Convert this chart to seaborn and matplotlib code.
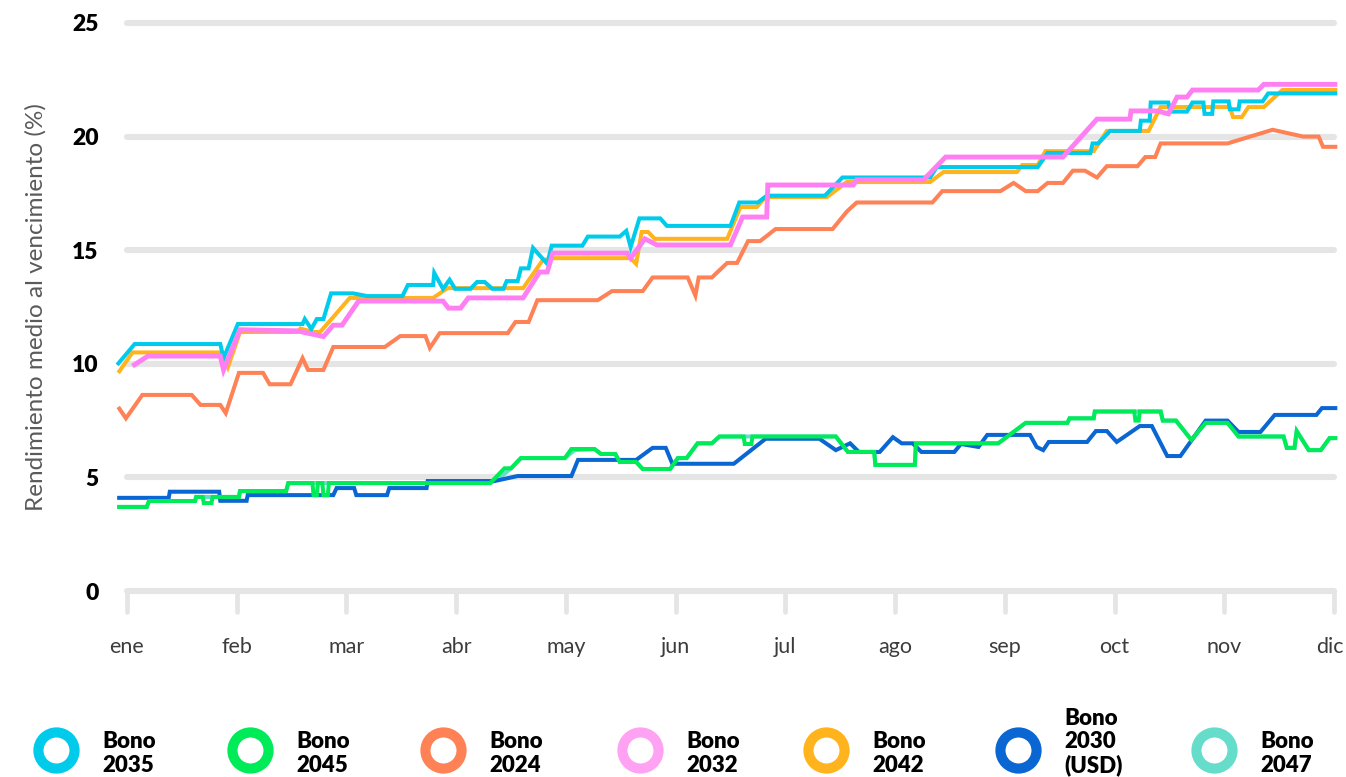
import numpy as np
import pandas as pd
import matplotlib
matplotlib.use("Agg")
import matplotlib.pyplot as plt
import matplotlib.transforms as mtransforms
from matplotlib.lines import Line2D
import seaborn as sns

# Month labels (x positions are fractional month indices, 0 = ene ... 11 = dic)
meses = ["ene", "feb", "mar", "abr", "may", "jun", "jul", "ago", "sep", "oct", "nov", "dic"]
yticks = [0, 5, 10, 15, 20, 25]

# Bono 2035
x_2035 = [-0.09, 0.07, 0.85, 0.88, 1.01, 1.60, 1.62, 1.68, 1.73, 1.79, 1.86, 2.06, 2.19, 2.51, 2.56,
          2.79, 2.80, 2.88, 2.94, 2.99, 3.13, 3.19, 3.26, 3.33, 3.43, 3.46, 3.56, 3.59, 3.66, 3.70,
          3.83, 3.87, 4.15, 4.20, 4.49, 4.55, 4.59, 4.67, 4.86, 4.92, 5.50, 5.58, 5.75, 5.83, 6.36,
          6.52, 7.32, 7.38, 8.30, 8.39, 8.78, 8.80, 8.85, 8.96, 9.23, 9.24, 9.32, 9.33, 9.49, 9.51,
          9.66, 9.71, 9.81, 9.82, 9.89, 9.90, 10.04, 10.05, 10.13, 10.14, 10.35, 10.40, 11.03]
y_2035 = [9.95, 10.87, 10.87, 10.25, 11.75, 11.75, 11.97, 11.53, 11.97, 11.97, 13.1, 13.1, 12.98, 12.98, 13.47,
          13.47, 14.0, 13.3, 13.7, 13.3, 13.3, 13.6, 13.6, 13.3, 13.3, 13.64, 13.64, 14.2, 14.2, 15.1,
          14.4, 15.2, 15.2, 15.6, 15.6, 15.85, 15.14, 16.4, 16.4, 16.07, 16.07, 17.1, 17.1, 17.4, 17.4,
          18.2, 18.2, 18.66, 18.66, 19.28, 19.28, 19.7, 19.7, 20.25, 20.25, 20.7, 20.7, 21.5, 21.5, 21.1,
          21.1, 21.5, 21.5, 21.0, 21.0, 21.55, 21.55, 21.2, 21.2, 21.55, 21.55, 21.9, 21.9]

# Bono 2045
x_2045 = [-0.09, 0.18, 0.20, 0.62, 0.63, 0.69, 0.70, 0.77, 0.78, 1.02, 1.03, 1.45, 1.47, 1.69, 1.70,
          1.73, 1.74, 1.78, 1.79, 1.83, 1.84, 3.31, 3.44, 3.50, 3.59, 3.99, 4.05, 4.26, 4.32, 4.45,
          4.49, 4.64, 4.70, 4.95, 5.02, 5.10, 5.20, 5.33, 5.40, 5.62, 5.63, 5.69, 5.70, 6.46, 6.57,
          6.81, 6.82, 7.18, 7.19, 7.94, 8.19, 8.57, 8.59, 8.81, 8.82, 9.18, 9.19, 9.22, 9.23, 9.42,
          9.44, 9.56, 9.70, 9.83, 10.03, 10.13, 10.54, 10.57, 10.64, 10.66, 10.77, 10.88, 10.96, 11.03]
y_2045 = [3.7, 3.7, 3.96, 3.96, 4.14, 4.14, 3.87, 3.87, 4.14, 4.14, 4.4, 4.4, 4.75, 4.75, 4.22,
          4.22, 4.75, 4.75, 4.22, 4.22, 4.75, 4.75, 5.4, 5.4, 5.85, 5.85, 6.25, 6.25, 6.03, 6.03,
          5.68, 5.68, 5.37, 5.37, 5.85, 5.85, 6.5, 6.5, 6.8, 6.8, 6.47, 6.47, 6.8, 6.8, 6.12,
          6.12, 5.55, 5.55, 6.5, 6.5, 7.4, 7.4, 7.6, 7.6, 7.9, 7.9, 7.5, 7.5, 7.9, 7.9,
          7.5, 7.5, 6.65, 7.4, 7.4, 6.8, 6.8, 6.3, 6.3, 7.04, 6.2, 6.2, 6.73, 6.73]

# Bono 2024
x_2024 = [-0.08, -0.01, 0.14, 0.59, 0.67, 0.85, 0.90, 1.02, 1.24, 1.30, 1.49, 1.60, 1.65, 1.79, 1.88,
          2.35, 2.49, 2.72, 2.76, 2.85, 3.47, 3.54, 3.66, 3.74, 4.29, 4.42, 4.70, 4.79, 5.11, 5.18,
          5.21, 5.33, 5.47, 5.56, 5.66, 5.77, 5.91, 6.43, 6.56, 6.65, 7.34, 7.43, 7.96, 8.08, 8.19,
          8.30, 8.39, 8.53, 8.62, 8.73, 8.84, 8.93, 9.21, 9.28, 9.37, 9.42, 10.03, 10.44, 10.72, 10.86,
          10.90, 11.03]
y_2024 = [8.1, 7.6, 8.63, 8.63, 8.19, 8.19, 7.83, 9.6, 9.6, 9.1, 9.1, 10.25, 9.73, 9.73, 10.74,
          10.74, 11.22, 11.22, 10.7, 11.35, 11.35, 11.84, 11.84, 12.8, 12.8, 13.2, 13.2, 13.8, 13.8, 13.0,
          13.8, 13.8, 14.44, 14.44, 15.4, 15.4, 15.93, 15.93, 16.7, 17.1, 17.1, 17.6, 17.6, 17.96, 17.6,
          17.6, 17.96, 17.96, 18.5, 18.5, 18.2, 18.7, 18.7, 19.1, 19.1, 19.7, 19.7, 20.3, 20.0, 20.0,
          19.55, 19.55]

# Bono 2032
x_2032 = [0.05, 0.19, 0.85, 0.88, 1.03, 1.55, 1.79, 1.88, 1.96, 2.11, 2.88, 2.93, 3.04, 3.11, 3.61,
          3.76, 3.83, 3.88, 4.56, 4.59, 4.72, 4.83, 5.50, 5.61, 5.83, 5.84, 6.62, 6.65, 7.26, 7.46,
          8.53, 8.84, 9.14, 9.15, 9.39, 9.49, 9.57, 9.66, 9.71, 10.31, 10.36, 11.03]
y_2032 = [9.9, 10.34, 10.34, 9.73, 11.5, 11.45, 11.2, 11.7, 11.7, 12.76, 12.76, 12.45, 12.45, 12.9, 12.9,
          14.04, 14.04, 14.87, 14.87, 14.65, 15.5, 15.23, 15.23, 16.46, 16.46, 17.87, 17.87, 18.1, 18.1, 19.1,
          19.1, 20.77, 20.77, 21.13, 21.13, 21.0, 21.74, 21.74, 22.05, 22.05, 22.3, 22.3]

# Bono 2042
x_2042 = [-0.08, 0.05, 0.87, 0.92, 1.03, 1.55, 1.58, 1.70, 1.76, 1.88, 2.03, 2.79, 2.92, 3.61, 3.79,
          3.90, 4.59, 4.64, 4.69, 4.75, 4.81, 5.47, 5.59, 5.74, 5.82, 6.38, 6.56, 7.32, 7.44, 8.11,
          8.16, 8.30, 8.37, 8.81, 8.93, 9.31, 9.42, 10.05, 10.08, 10.16, 10.22, 10.36, 10.53, 11.03]
y_2042 = [9.6, 10.5, 10.5, 9.86, 11.4, 11.4, 11.55, 11.4, 11.4, 12.06, 12.9, 12.9, 13.33, 13.33, 14.57,
          14.65, 14.65, 14.4, 15.8, 15.8, 15.5, 15.5, 16.9, 16.9, 17.34, 17.34, 18.0, 18.0, 18.44, 18.44,
          18.75, 18.75, 19.36, 19.36, 20.25, 20.25, 21.3, 21.3, 20.86, 20.86, 21.3, 21.3, 22.05, 22.05]

# Bono 2030 (USD)
x_2030 = [-0.09, 0.38, 0.39, 0.84, 0.85, 1.09, 1.10, 1.88, 1.91, 2.07, 2.09, 2.37, 2.39, 2.73, 2.74,
          3.35, 3.56, 4.05, 4.11, 4.64, 4.79, 4.91, 4.97, 5.53, 5.82, 6.31, 6.46, 6.59, 6.67, 6.86,
          6.98, 7.06, 7.16, 7.24, 7.54, 7.60, 7.76, 7.84, 8.23, 8.29, 8.35, 8.40, 8.75, 8.83, 8.93,
          9.02, 9.23, 9.34, 9.48, 9.60, 9.83, 10.03, 10.13, 10.33, 10.46, 10.84, 10.89, 11.03]
y_2030 = [4.1, 4.1, 4.37, 4.37, 3.97, 3.97, 4.22, 4.22, 4.53, 4.53, 4.22, 4.22, 4.53, 4.53, 4.84,
          4.84, 5.06, 5.06, 5.77, 5.77, 6.3, 6.3, 5.6, 5.6, 6.7, 6.7, 6.2, 6.5, 6.12, 6.12,
          6.77, 6.5, 6.5, 6.12, 6.12, 6.47, 6.34, 6.87, 6.87, 6.34, 6.2, 6.56, 6.56, 7.04, 7.04,
          6.56, 7.26, 7.26, 5.94, 5.94, 7.5, 7.5, 7.0, 7.0, 7.75, 7.75, 8.05, 8.05]

# Bono 2047
x_2047 = [-0.09, 0.18, 0.20, 0.62, 0.63, 1.02, 1.03, 1.45, 1.47, 3.31, 3.40, 3.50, 3.59, 3.99, 4.08,
          4.26, 4.32, 4.45, 4.49, 4.64, 4.70, 4.95, 5.02, 5.10, 5.20, 5.33, 5.40, 6.46, 6.57, 6.81,
          6.82, 7.18, 7.19, 7.94, 8.19, 8.57, 8.59, 8.81, 8.82, 9.42, 9.44, 9.56, 9.70, 9.83, 10.03,
          10.13, 10.54, 10.57, 10.64, 10.66, 10.77, 10.88, 10.96, 11.03]
y_2047 = [3.7, 3.7, 3.96, 3.96, 4.14, 4.14, 4.4, 4.4, 4.75, 4.75, 5.0, 5.4, 5.85, 5.85, 6.2,
          6.25, 6.03, 6.03, 5.68, 5.68, 5.37, 5.37, 5.85, 5.85, 6.5, 6.5, 6.8, 6.8, 6.12, 6.12,
          5.55, 5.55, 6.5, 6.5, 7.4, 7.4, 7.6, 7.6, 7.9, 7.9, 7.5, 7.5, 6.65, 7.4, 7.4,
          6.8, 6.8, 6.3, 6.3, 7.04, 6.2, 6.2, 6.73, 6.73]

series = {
    "Bono 2035": (x_2035, y_2035),
    "Bono 2045": (x_2045, y_2045),
    "Bono 2024": (x_2024, y_2024),
    "Bono 2032": (x_2032, y_2032),
    "Bono 2042": (x_2042, y_2042),
    "Bono 2030 (USD)": (x_2030, y_2030),
    "Bono 2047": (x_2047, y_2047),
}
legend_order = list(series.keys())
legend_labels = ["Bono\n2035", "Bono\n2045", "Bono\n2024", "Bono\n2032", "Bono\n2042",
                 "Bono\n2030\n(USD)", "Bono\n2047"]
line_colors = {
    "Bono 2035": "#00CBEA",
    "Bono 2045": "#00EB58",
    "Bono 2024": "#FF8156",
    "Bono 2032": "#FF7EF2",
    "Bono 2042": "#FFB31C",
    "Bono 2030 (USD)": "#0A66D2",
    "Bono 2047": "#66DDCB",
}
legend_colors = dict(line_colors)
legend_colors["Bono 2032"] = "#FFA2F4"
# stacking order, bottom to top
draw_order = ["Bono 2047", "Bono 2030 (USD)", "Bono 2045", "Bono 2024", "Bono 2042", "Bono 2035", "Bono 2032"]

rows = []
for name, (xs, ys) in series.items():
    for xv, yv in zip(xs, ys):
        rows.append((name, xv, yv))
df = pd.DataFrame(rows, columns=["bono", "mes", "valor"])

sns.set_theme(style="white")
plt.rcParams["font.family"] = ["Lato", "DejaVu Sans"]

W, H = 1346, 777
fig = plt.figure(figsize=(W / 100, H / 100), dpi=100)
fig.patch.set_facecolor("white")

# axes placed so that x=0 -> px 127, x=11 -> px 1334, y=0 -> px 591, y=25 -> px 23
x0, x1 = -0.12, 11.04
y0, y1 = -0.3, 25.3
pxu = (1334 - 127) / 11.0
pyu = (591 - 23) / 25.0
left = 127 + x0 * pxu
right = 127 + x1 * pxu
bottom = 591 - y0 * pyu
top = 591 - y1 * pyu
ax = fig.add_axes([left / W, 1 - bottom / H, (right - left) / W, (bottom - top) / H])
ax.set_xlim(x0, x1)
ax.set_ylim(y0, y1)

grid_c = "#e5e5e5"
ax.hlines(yticks, 0, 11, color=grid_c, lw=4.4, capstyle="round", zorder=0)
ax.vlines(range(len(meses)), -0.92, 0, color=grid_c, lw=3.4, capstyle="round", zorder=0, clip_on=False)

sns.lineplot(data=df, x="mes", y="valor", hue="bono", hue_order=draw_order,
             palette=line_colors, estimator=None, sort=False, legend=False,
             linewidth=2.9, ax=ax)
for ln in ax.lines:
    ln.set_solid_joinstyle("miter")
    ln.set_solid_capstyle("butt")
    if ln.get_color().lower() == line_colors["Bono 2032"].lower():
        ln.set_linewidth(3.5)

for s in ax.spines.values():
    s.set_visible(False)
ax.set_xticks(range(len(meses)))
ax.set_xticklabels(meses, fontsize=15.5, color="#3c3c3c", fontweight="normal")
ax.set_yticks(yticks)
ax.set_yticklabels([str(v) for v in yticks], fontsize=16.5, fontweight="heavy", color="#000000")
ax.tick_params(axis="x", length=0, pad=28)
ax.tick_params(axis="y", length=0, pad=11)
# keep the last month label inside the canvas
last = ax.get_xticklabels()[-1]
last.set_transform(last.get_transform() + mtransforms.ScaledTranslation(-4 / 100, 0, fig.dpi_scale_trans))
ax.set_xlabel("")
ax.set_ylabel("Rendimiento medio al vencimiento (%)", fontsize=17.5, color="#5a5a5a",
              fontweight="normal", labelpad=18)
ax.grid(False)

# legend row along the bottom
centers = [56, 250, 443, 640, 826, 1018, 1214]
cy = 750
for name, lab, cx in zip(legend_order, legend_labels, centers):
    fig.add_artist(Line2D([cx / W], [1 - cy / H], transform=fig.transFigure, marker="o",
                          markersize=26, markeredgewidth=7.3, markerfacecolor="white",
                          markeredgecolor=legend_colors[name], linestyle="none"))
    lines = lab.split("\n")
    base = 772
    for i, t in enumerate(reversed(lines)):
        fig.text((cx + 46) / W, 1 - (base - i * 23.5) / H, t, ha="left", va="baseline",
                 fontsize=16, fontweight="heavy", color="#000000")

fig.savefig("out.png", dpi=100, facecolor="white")
